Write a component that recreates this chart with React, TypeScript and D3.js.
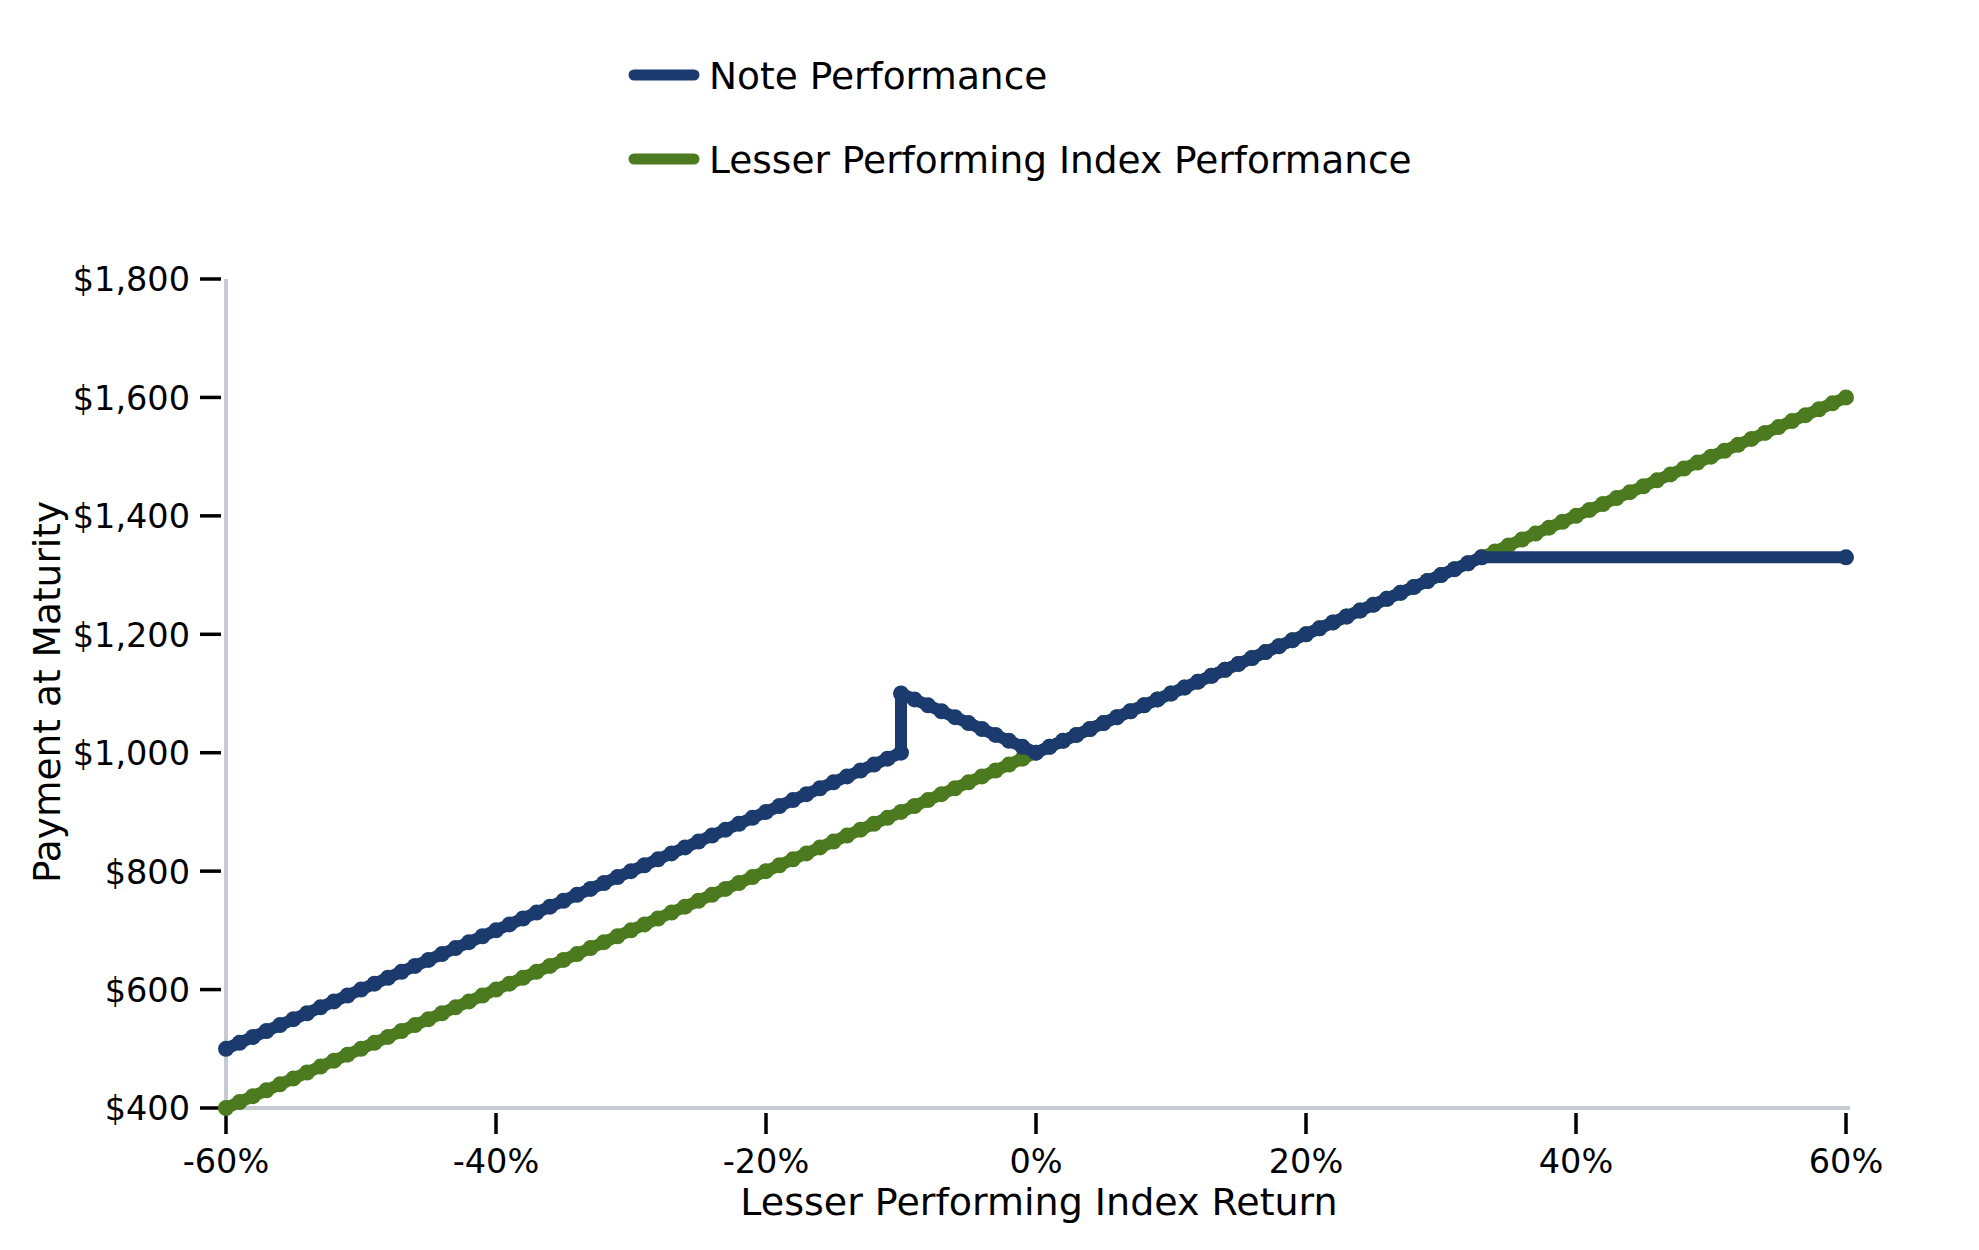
import * as d3 from 'd3';
import * as React from 'react';

// x: lesser performing index return (%), one point per percent
const returnPct = [
  -60, -59, -58, -57, -56, -55, -54, -53, -52, -51,
  -50, -49, -48, -47, -46, -45, -44, -43, -42, -41,
  -40, -39, -38, -37, -36, -35, -34, -33, -32, -31,
  -30, -29, -28, -27, -26, -25, -24, -23, -22, -21,
  -20, -19, -18, -17, -16, -15, -14, -13, -12, -11,
  -10, -9, -8, -7, -6, -5, -4, -3, -2, -1,
  0, 1, 2, 3, 4, 5, 6, 7, 8, 9,
  10, 11, 12, 13, 14, 15, 16, 17, 18, 19,
  20, 21, 22, 23, 24, 25, 26, 27, 28, 29,
  30, 31, 32, 33, 34, 35, 36, 37, 38, 39,
  40, 41, 42, 43, 44, 45, 46, 47, 48, 49,
  50, 51, 52, 53, 54, 55, 56, 57, 58, 59,
  60,
];

const indexPayment = [
  400, 410, 420, 430, 440, 450, 460, 470, 480, 490,
  500, 510, 520, 530, 540, 550, 560, 570, 580, 590,
  600, 610, 620, 630, 640, 650, 660, 670, 680, 690,
  700, 710, 720, 730, 740, 750, 760, 770, 780, 790,
  800, 810, 820, 830, 840, 850, 860, 870, 880, 890,
  900, 910, 920, 930, 940, 950, 960, 970, 980, 990,
  1000, 1010, 1020, 1030, 1040, 1050, 1060, 1070, 1080, 1090,
  1100, 1110, 1120, 1130, 1140, 1150, 1160, 1170, 1180, 1190,
  1200, 1210, 1220, 1230, 1240, 1250, 1260, 1270, 1280, 1290,
  1300, 1310, 1320, 1330, 1340, 1350, 1360, 1370, 1380, 1390,
  1400, 1410, 1420, 1430, 1440, 1450, 1460, 1470, 1480, 1490,
  1500, 1510, 1520, 1530, 1540, 1550, 1560, 1570, 1580, 1590,
  1600,
];

// note series: jump at -10% (two points at the same return), flat cap from 33% to 60%
const noteReturnPct = [
  -60, -59, -58, -57, -56, -55, -54, -53, -52, -51,
  -50, -49, -48, -47, -46, -45, -44, -43, -42, -41,
  -40, -39, -38, -37, -36, -35, -34, -33, -32, -31,
  -30, -29, -28, -27, -26, -25, -24, -23, -22, -21,
  -20, -19, -18, -17, -16, -15, -14, -13, -12, -11,
  -10, -10, -9, -8, -7, -6, -5, -4, -3, -2, -1,
  0, 1, 2, 3, 4, 5, 6, 7, 8, 9,
  10, 11, 12, 13, 14, 15, 16, 17, 18, 19,
  20, 21, 22, 23, 24, 25, 26, 27, 28, 29,
  30, 31, 32, 33,
  60,
];

const notePayment = [
  500, 510, 520, 530, 540, 550, 560, 570, 580, 590,
  600, 610, 620, 630, 640, 650, 660, 670, 680, 690,
  700, 710, 720, 730, 740, 750, 760, 770, 780, 790,
  800, 810, 820, 830, 840, 850, 860, 870, 880, 890,
  900, 910, 920, 930, 940, 950, 960, 970, 980, 990,
  1000, 1100, 1090, 1080, 1070, 1060, 1050, 1040, 1030, 1020, 1010,
  1000, 1010, 1020, 1030, 1040, 1050, 1060, 1070, 1080, 1090,
  1100, 1110, 1120, 1130, 1140, 1150, 1160, 1170, 1180, 1190,
  1200, 1210, 1220, 1230, 1240, 1250, 1260, 1270, 1280, 1290,
  1300, 1310, 1320, 1330,
  1330,
];

const xTicks = [-60, -40, -20, 0, 20, 40, 60];
const yTicks = [400, 600, 800, 1000, 1200, 1400, 1600, 1800];

const BLUE = '#1b3b6f';
const GREEN = '#4b7a1f';
const AXIS = '#c6cbd1';
const FONT = '"DejaVu Sans", sans-serif';

const width = 1979;
const height = 1250;

const App = () => {
  const x = d3.scaleLinear().domain([-60, 60]).range([226, 1846]);
  const y = d3.scaleLinear().domain([400, 1800]).range([1108, 279]);
  const fmtMoney = d3.format('$,');

  const line = d3
    .line<[number, number]>()
    .x((d) => x(d[0]))
    .y((d) => y(d[1]));

  const indexPts: [number, number][] = returnPct.map((r, i) => [r, indexPayment[i]]);
  const notePts: [number, number][] = noteReturnPct.map((r, i) => [r, notePayment[i]]);

  const series = [
    { name: 'Lesser Performing Index Performance', color: GREEN, pts: indexPts },
    { name: 'Note Performance', color: BLUE, pts: notePts },
  ];

  const legend = [
    { name: 'Note Performance', color: BLUE, y: 75 },
    { name: 'Lesser Performing Index Performance', color: GREEN, y: 159 },
  ];

  const yBase = y(400);

  return (
    <div style={{ position: 'absolute', left: 0, top: 0 }}>
      <svg width={width} height={height} style={{ display: 'block', background: '#fff' }}>
        {/* legend */}
        {legend.map((l) => (
          <g key={l.name}>
            <line x1={634} x2={694} y1={l.y} y2={l.y} stroke={l.color} strokeWidth={11} strokeLinecap="round" />
            <text x={709} y={l.y} dy="0.36em" fontFamily={FONT} fontSize={37.5} fill="#000">
              {l.name}
            </text>
          </g>
        ))}

        {/* axes */}
        <line x1={x(-60)} x2={x(-60)} y1={y(1800)} y2={yBase} stroke={AXIS} strokeWidth={4} />
        <line x1={x(-60)} x2={x(60) + 4} y1={yBase} y2={yBase} stroke={AXIS} strokeWidth={4} />

        {yTicks.map((t) => (
          <g key={t}>
            <line x1={200} x2={221} y1={y(t)} y2={y(t)} stroke="#000" strokeWidth={3.5} />
            <text x={190} y={y(t)} dy="0.37em" textAnchor="end" fontFamily={FONT} fontSize={33.5} fill="#000">
              {fmtMoney(t)}
            </text>
          </g>
        ))}

        {xTicks.map((t) => (
          <g key={t}>
            <line x1={x(t)} x2={x(t)} y1={yBase + 5} y2={yBase + 26} stroke="#000" strokeWidth={3.5} />
            <text x={x(t)} y={yBase + 65} textAnchor="middle" fontFamily={FONT} fontSize={33.5} fill="#000">
              {`${t}%`}
            </text>
          </g>
        ))}

        <text x={1039} y={1201} dy="0.36em" textAnchor="middle" fontFamily={FONT} fontSize={38} fill="#000">
          Lesser Performing Index Return
        </text>
        <text
          transform={`translate(46,692) rotate(-90)`}
          dy="0.36em"
          textAnchor="middle"
          fontFamily={FONT}
          fontSize={37.5}
          fill="#000"
        >
          Payment at Maturity
        </text>

        {/* series */}
        {series.map((s) => (
          <g key={s.name}>
            <path d={line(s.pts) ?? ''} fill="none" stroke={s.color} strokeWidth={12} strokeLinejoin="round" strokeLinecap="round" />
            {s.pts.map((p, i) => (
              <circle key={i} cx={x(p[0])} cy={y(p[1])} r={8} fill={s.color} />
            ))}
          </g>
        ))}
      </svg>
    </div>
  );
};

export default App;
